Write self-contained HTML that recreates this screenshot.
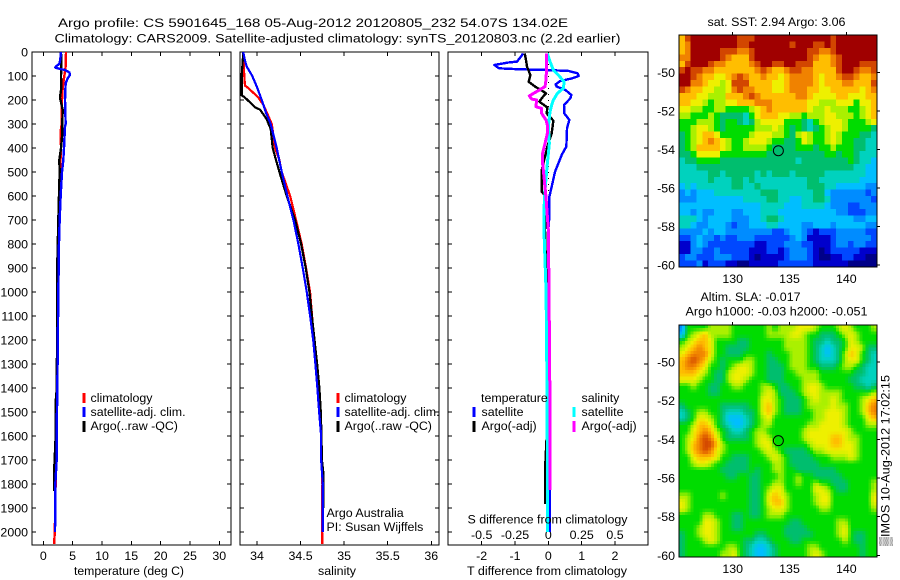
<!DOCTYPE html>
<html>
<head>
<meta charset="utf-8">
<title>Argo profile</title>
<style>
html,body{margin:0;padding:0;background:#fff;width:900px;height:580px;overflow:hidden}
svg{display:block}
text{font-family:"Liberation Sans",sans-serif;font-size:12.4px;fill:#000}
</style>
</head>
<body>
<svg id="chart" width="900" height="580" viewBox="0 0 900 580" xmlns="http://www.w3.org/2000/svg">
<rect x="0" y="0" width="900" height="580" fill="#fff"/>
<text x="58" y="27" textLength="510" lengthAdjust="spacingAndGlyphs">Argo profile: CS 5901645_168 05-Aug-2012 20120805_232 54.07S 134.02E</text>
<text x="54.5" y="42.5" textLength="566" lengthAdjust="spacingAndGlyphs">Climatology: CARS2009. Satellite-adjusted climatology: synTS_20120803.nc (2.2d earlier)</text>
<g id="layer"></g>
<text x="74" y="575" textLength="110" lengthAdjust="spacingAndGlyphs">temperature (deg C)</text>
<text x="318" y="575" textLength="38" lengthAdjust="spacingAndGlyphs">salinity</text>
<text x="467" y="575" textLength="160" lengthAdjust="spacingAndGlyphs">T difference from climatology</text>
<text x="467.5" y="523.5" textLength="160" lengthAdjust="spacingAndGlyphs">S difference from climatology</text>
<text x="90.5" y="402">climatology</text>
<text x="90.5" y="416">satellite-adj. clim.</text>
<text x="90.5" y="430">Argo(..raw -QC)</text>
<text x="344.5" y="402">climatology</text>
<text x="344.5" y="416">satellite-adj. clim.</text>
<text x="344.5" y="430">Argo(..raw -QC)</text>
<text x="326.5" y="517">Argo Australia</text>
<text x="326.5" y="531">PI: Susan Wijffels</text>
<text x="481" y="402">temperature</text>
<text x="581.5" y="402">salinity</text>
<text x="481.5" y="416">satellite</text>
<text x="481.5" y="430">Argo(-adj)</text>
<text x="581.5" y="416">satellite</text>
<text x="581.5" y="430">Argo(-adj)</text>
<text x="707.5" y="26" textLength="138" lengthAdjust="spacingAndGlyphs">sat. SST: 2.94 Argo: 3.06</text>
<text x="700.5" y="301" textLength="100" lengthAdjust="spacingAndGlyphs">Altim. SLA: -0.017</text>
<text x="685.5" y="315.5" textLength="182" lengthAdjust="spacingAndGlyphs">Argo h1000: -0.03 h2000: -0.051</text>
<text transform="translate(889.5,546) rotate(-90)" textLength="171" lengthAdjust="spacingAndGlyphs">▒IMOS 10-Aug-2012 17:02:15</text>
</svg>
<script>
// ---- chart data ----
const depthTicks = [0,100,200,300,400,500,600,700,800,900,1000,1100,1200,1300,1400,1500,1600,1700,1800,1900,2000];
const tempTicks = [0,5,10,15,20,25,30];
const salTicks = [34,34.5,35,35.5,36];
const diffTTicks = [-2,-1,0,1,2];
const diffSTicks = [-0.5,-0.25,0,0.25,0.5];
const lonTicks = [130,135,140];
const latTicks = [-50,-52,-54,-56,-58,-60];
const argoLon = 134.02;
const argoLat = -54.07;

const climTempDepth = [0,60,80,150,200,300,330,400,500,600,1000,1400,1800,1950,2000,2050];
const climTemp = [3.87,3.81,3.70,3.30,3.19,3.13,2.96,3.02,2.84,2.73,2.56,2.39,2.1,2.0,1.95,1.85];
const satTempDepth = [0,30,50,60,65,70,75,85,95,110,130,200,300,310,400,450,500,600,700,800,900,1000,1400,1500,1600,1700,1800,1900,2000];
const satTemp = [3.02,2.90,2.73,2.16,2.05,2.73,3.70,4.44,4.55,4.15,3.81,3.70,3.81,3.70,3.53,3.41,3.19,2.96,2.79,2.67,2.62,2.56,2.39,2.33,2.28,2.28,2.05,2.05,1.99];
const argoTempDepth = [0,50,100,150,190,210,240,300,340,400,450,500,600,700,880,1000,1400,1460,1600,1730,1830];
const argoTemp = [3.02,3.07,3.02,3.07,2.84,3.02,3.30,3.24,3.24,3.02,2.73,2.79,2.67,2.56,2.39,2.39,2.3,2.11,2.11,1.88,1.88];

const climSalDepth = [0,100,140,150,170,190,220,250,300,400,450,500,600,700,800,900,1000,1200,1400,1600,1800,1950,2050];
const climSal = [33.843,33.854,33.862,33.90,33.958,34.015,34.073,34.11,34.17,34.207,34.257,34.284,34.38,34.448,34.513,34.563,34.609,34.655,34.70,34.736,34.75,34.745,34.75];
const satSalDepth = [0,30,60,100,150,200,250,300,400,500,600,700,800,900,1000,1100,1200,1300,1400,1500,1600,1700,1800,1900,2000];
const satSal = [33.843,33.858,33.881,33.946,34.004,34.054,34.10,34.157,34.226,34.284,34.349,34.418,34.475,34.525,34.571,34.61,34.645,34.67,34.693,34.713,34.736,34.736,34.755,34.755,34.755];
const argoSalDepth = [0,100,180,190,210,230,240,260,280,320,400,450,500,600,700,800,900,1000,1100,1200,1300,1400,1500,1600,1700,1750,1800,1900];
const argoSal = [33.843,33.824,33.824,33.862,33.92,33.977,34.034,34.073,34.11,34.157,34.18,34.218,34.257,34.341,34.437,34.506,34.559,34.602,34.63,34.66,34.69,34.716,34.732,34.74,34.745,34.76,34.76,34.76];

const diffSatTDepth = [6,17,40,44,54,68,72,75,79,89,100,110,121,135,144,158,179,193,221,256,283,318,394,429,499,561,603,686,742,1000,1400,2000];
const diffSatT = [-0.76,-0.81,-0.94,-1.21,-1.62,-1.48,-0.86,-0.05,0.61,0.88,0.91,0.71,0.35,0.22,0.25,0.51,0.69,0.66,0.47,0.48,0.63,0.56,0.54,0.40,0.2,0.1,0.03,0.03,0,0.02,0.05,0.05];
const diffArgoTDepth = [6,26,61,96,124,144,165,172,193,207,231,256,286,339,394,436,464,492,582,603,742,1000,1400,1600,1740,1850,1883];
const diffArgoT = [-0.71,-0.68,-0.64,-0.54,-0.59,-0.40,-0.15,-0.07,-0.2,-0.27,-0.03,-0.05,0.15,0.1,-0.03,-0.1,-0.15,-0.2,-0.2,-0.07,-0.1,-0.05,-0.05,-0.05,-0.1,-0.1,-0.1];
const diffSatSDepth = [6,40,75,96,124,151,172,200,221,249,311,381,464,575,658,742,1000,1400,2000];
const diffSatS = [-0.0075,0.0125,0.0376,0.075,0.118,0.113,0.068,0.0376,0.025,0.0125,0,0.0075,-0.0075,-0.025,-0.033,-0.033,-0.017,-0.01,-0.005];
const diffArgoSDepth = [6,61,117,144,165,183,196,200,228,235,256,283,304,339,381,422,464,519,603,686,742,1000,1500,1825];
const diffArgoS = [-0.0125,-0.0125,-0.018,-0.025,-0.088,-0.143,-0.125,-0.088,-0.093,-0.05,-0.05,-0.018,-0.0075,-0.0075,-0.025,-0.043,-0.043,-0.033,-0.018,-0.0075,0,0.005,0.0125,0.0125];

// colour level per map cell (row 0 = north)
const sstLevels = [
[10,12,13,13,13,13,13,13,13,13,12,12,12,13,13,13,13,13,13,13,13,13,13,13,13,13,12,13,13,13,13,13,13,13],
[10,11,13,13,13,13,13,13,13,13,12,12,13,13,13,13,13,13,13,12,13,13,13,12,12,13,12,13,13,13,13,13,13,13],
[10,11,13,13,13,13,13,12,12,12,11,11,12,13,13,13,13,13,13,13,13,13,12,12,11,11,12,13,13,13,13,13,13,13],
[11,11,13,13,13,13,13,12,11,10,10,10,12,13,13,13,13,13,13,13,13,13,12,11,10,10,11,12,13,13,13,13,13,13],
[10,12,13,13,13,12,11,11,10,10,10,10,11,12,13,13,12,12,13,13,12,12,12,10,10,10,11,12,13,13,13,12,12,12],
[12,13,12,12,11,11,10,10,10,10,10,10,10,11,12,11,10,10,11,12,12,11,11,10,10,10,10,12,13,13,12,11,11,12],
[13,13,12,11,10,10,9,9,10,11,12,11,10,10,11,10,10,9,10,11,11,11,11,10,9,10,10,11,12,12,11,10,10,11],
[13,13,11,11,10,9,9,8,9,12,12,12,10,10,10,10,9,9,10,11,11,11,11,10,9,10,10,10,11,11,10,10,10,12],
[12,11,10,10,9,9,8,8,9,11,12,11,11,10,10,10,9,9,10,11,11,11,10,10,9,9,10,10,10,10,10,9,10,11],
[10,10,10,9,9,8,8,8,10,10,10,11,12,11,10,10,10,10,10,10,11,11,10,9,9,9,9,10,10,9,9,9,10,10],
[10,10,9,9,8,7,8,8,9,9,10,10,10,11,11,11,10,10,10,10,10,10,9,9,8,8,8,9,9,9,7,9,9,10],
[9,9,8,8,7,7,8,8,7,7,7,7,8,9,10,11,10,10,10,10,10,10,9,8,8,9,8,8,8,7,7,8,9,10],
[8,8,7,7,7,8,7,6,6,6,6,5,7,9,10,10,10,9,9,8,8,7,8,8,8,9,9,8,8,8,7,8,9,10],
[7,7,7,8,8,8,7,6,7,7,6,5,6,8,9,9,9,9,7,7,7,6,5,7,8,9,9,9,8,7,7,7,8,9],
[7,7,8,9,9,8,7,6,7,7,7,7,7,8,8,8,9,8,7,6,7,6,5,6,7,8,9,9,8,7,7,7,7,6],
[6,7,8,9,10,10,9,7,7,7,7,7,8,9,9,9,8,8,7,6,8,9,8,7,7,8,9,8,7,7,7,6,6,5],
[6,7,8,9,10,11,10,9,8,7,7,8,9,9,9,8,7,7,6,6,7,9,8,7,7,8,9,8,7,7,6,6,5,5],
[6,7,8,10,10,10,10,9,8,7,7,8,8,8,8,7,6,6,6,6,7,7,7,6,7,7,8,7,7,7,6,6,5,5],
[6,6,7,9,9,9,9,7,7,7,7,7,7,7,7,6,6,6,6,6,6,6,6,6,6,7,7,6,7,7,6,5,5,5],
[5,6,6,7,7,7,7,6,6,6,6,6,6,6,6,6,6,6,6,6,5,6,6,6,6,6,6,6,6,7,6,5,5,4],
[5,5,5,6,6,6,6,6,6,6,6,6,6,6,6,6,6,6,6,6,6,6,6,6,6,6,6,6,6,6,5,5,4,4],
[5,5,5,5,5,6,6,5,6,6,6,6,6,5,6,5,6,6,6,5,6,6,6,6,6,5,5,5,5,5,5,5,4,4],
[5,5,5,5,5,6,5,5,5,6,6,5,6,5,5,5,5,5,5,5,5,5,6,6,5,5,5,5,5,5,5,4,4,4],
[4,5,4,5,5,5,5,5,5,6,6,5,5,6,5,5,5,5,5,5,5,5,6,6,6,5,5,4,4,4,4,4,3,3],
[3,4,3,4,4,4,5,5,5,5,5,5,5,5,6,6,6,5,5,5,5,5,5,6,6,4,3,3,3,3,3,3,2,3],
[3,3,3,4,4,4,4,4,4,4,4,5,5,5,5,6,6,5,5,4,4,5,5,6,6,5,3,3,3,3,3,3,3,2],
[4,4,4,4,4,4,4,4,4,4,4,4,4,4,5,5,5,5,4,4,4,5,5,5,5,4,3,3,3,2,2,3,3,3],
[4,4,3,4,3,3,4,4,4,3,3,4,4,4,5,5,5,4,4,4,4,4,4,4,4,4,4,3,3,2,2,2,3,3],
[5,5,5,4,3,4,4,4,4,3,3,3,4,4,5,6,6,5,4,4,4,4,4,4,4,4,4,4,4,4,3,3,4,4],
[5,5,4,3,3,4,4,4,3,2,3,3,4,4,4,5,5,4,4,4,4,3,3,4,4,4,3,4,4,4,4,4,3,3],
[3,3,3,3,4,3,4,4,3,3,3,3,3,3,3,3,2,2,3,4,4,3,2,1,2,2,2,3,3,3,3,3,2,2],
[2,2,3,4,3,3,2,3,2,2,3,3,3,2,2,2,2,2,2,3,4,3,1,1,1,1,2,3,3,3,3,3,3,2],
[1,1,3,4,3,2,2,2,2,2,2,2,2,1,1,2,2,2,3,3,3,2,2,1,1,1,2,3,3,2,3,3,2,2],
[1,1,3,3,2,2,3,2,2,2,2,2,1,1,1,2,2,1,2,3,3,3,2,1,0,1,2,2,2,2,2,1,1,1],
[2,3,3,2,2,2,3,3,3,2,2,2,1,0,1,1,1,1,2,3,3,3,2,1,0,0,1,1,2,2,1,1,0,0],
[2,2,2,3,1,2,2,2,1,1,0,0,1,1,1,1,1,2,2,2,2,2,2,1,1,1,1,1,1,0,0,0,0,0]
];
const slaLevels = [
[3,7,7,7,7,8,8,8,8,7,7,7,7,7,7,8,7,8,8,8,9,9,9,8,7,7,7,8,9,8,7,7,7,8],
[4,7,8,9,10,8,8,8,8,7,7,7,7,7,7,8,8,8,8,9,9,8,7,7,6,6,6,7,8,9,8,7,7,7],
[7,8,9,10,10,9,7,7,7,7,6,6,7,7,7,7,7,7,8,8,8,8,7,6,6,5,6,6,7,9,8,7,7,7],
[8,9,10,11,10,9,7,7,6,6,6,6,7,7,7,7,7,7,8,8,8,8,7,6,5,4,5,6,7,9,9,8,6,6],
[9,10,11,11,11,9,7,7,6,6,6,7,7,7,7,6,7,7,7,8,8,8,7,6,5,4,5,6,8,10,9,7,6,5],
[10,11,12,11,10,8,7,6,7,7,7,8,8,7,7,6,6,7,7,8,8,8,7,6,5,5,5,6,8,9,9,7,6,5],
[10,11,11,10,9,7,7,6,7,8,9,9,8,7,7,6,6,6,7,8,8,8,7,7,6,6,6,7,8,8,7,6,5,5],
[10,10,10,9,8,7,6,6,8,9,9,9,8,7,7,6,6,6,7,7,8,8,8,8,7,7,7,7,7,7,6,6,5,5],
[9,9,9,8,7,7,6,6,8,9,9,8,7,7,7,6,6,6,7,7,7,8,8,8,7,7,7,7,7,6,6,5,5,5],
[7,7,8,7,7,6,6,7,7,8,8,7,7,7,8,8,7,6,6,7,7,8,9,9,8,7,7,7,7,7,6,6,5,6],
[7,7,7,7,7,6,6,7,7,7,7,7,7,7,8,9,8,6,6,6,7,8,9,9,8,8,8,8,7,7,7,7,7,8],
[7,7,7,7,7,7,7,7,7,7,7,7,7,7,9,9,8,7,6,6,6,7,8,9,8,8,9,8,7,7,7,8,9,10],
[6,7,7,7,7,7,7,6,6,6,6,6,7,7,9,10,8,7,6,6,6,7,8,8,8,8,9,8,8,7,7,8,10,11],
[5,6,7,8,8,7,7,6,5,5,5,6,6,7,9,10,8,7,6,6,6,7,7,8,8,9,9,9,8,7,7,8,10,11],
[5,6,7,9,9,8,7,6,4,4,4,5,6,7,8,9,7,7,7,7,7,7,7,8,8,9,9,9,8,7,7,7,9,10],
[7,7,8,10,10,9,7,6,5,4,4,5,6,7,8,8,7,7,7,7,7,7,8,8,9,9,9,9,8,7,7,7,8,8],
[7,7,9,10,11,10,8,7,6,5,5,6,7,8,8,7,7,7,7,7,7,8,9,9,9,9,9,9,9,8,7,7,7,7],
[7,8,9,11,12,11,9,7,6,6,6,6,7,8,9,8,7,7,7,7,7,8,9,9,9,9,10,10,9,8,8,7,7,7],
[7,8,10,11,12,12,10,8,7,7,7,7,7,8,9,9,7,7,7,7,7,7,8,9,9,9,10,10,9,9,8,7,7,7],
[7,8,10,11,12,11,9,8,7,7,7,7,7,7,8,9,8,7,6,6,6,6,7,8,8,9,9,9,9,9,8,7,7,7],
[7,7,9,10,10,10,9,7,7,6,6,6,7,7,7,8,9,8,7,6,6,6,6,7,7,7,8,8,8,9,8,7,7,7],
[7,7,8,9,9,8,7,7,6,6,6,6,7,7,7,7,8,8,7,6,6,6,6,6,7,7,7,7,7,7,7,7,7,7],
[7,7,7,7,7,7,7,6,6,6,6,6,7,6,7,7,8,8,7,7,6,6,6,6,6,6,6,7,7,7,7,7,7,7],
[7,7,7,7,7,7,7,7,6,6,7,7,6,6,7,7,7,8,7,7,8,7,7,6,6,6,6,6,7,7,7,7,7,7],
[7,7,7,7,7,7,7,7,7,7,7,7,6,6,7,7,8,8,7,7,8,7,7,8,7,7,6,6,6,7,7,7,7,8],
[7,7,7,7,7,7,7,7,7,7,7,7,6,6,7,8,9,9,7,7,7,7,7,9,9,8,7,6,6,7,7,7,7,8],
[8,8,7,7,7,7,7,8,7,7,7,7,6,6,7,9,10,9,8,7,7,7,7,8,9,9,7,7,7,7,7,7,7,9],
[9,8,7,7,7,7,7,7,7,7,7,7,6,6,7,9,10,10,8,7,7,7,7,8,9,9,7,7,7,7,7,7,7,9],
[9,8,7,7,7,7,7,7,7,7,7,7,6,6,7,8,9,9,8,7,7,7,7,7,8,8,7,7,7,7,7,7,7,8],
[7,7,7,7,8,8,7,7,7,6,6,7,6,6,7,8,8,8,7,7,7,7,7,7,7,7,7,7,7,7,7,7,7,7],
[7,7,7,7,9,9,8,7,7,6,6,7,7,7,7,7,7,7,7,6,6,7,7,7,7,7,7,8,8,7,7,7,7,7],
[7,7,7,8,9,9,8,7,7,6,6,7,7,7,7,7,7,7,6,6,6,6,7,7,7,7,7,8,9,7,7,7,7,7],
[6,7,7,8,9,9,8,7,7,7,7,7,7,6,6,7,7,7,6,6,6,6,6,7,7,7,7,8,9,7,6,6,7,7],
[6,7,7,7,8,9,8,7,7,7,7,6,6,5,5,6,7,7,7,6,6,7,7,7,7,7,7,7,8,7,6,6,7,7],
[6,7,7,7,7,7,7,7,8,8,7,6,5,4,4,5,6,7,7,7,7,7,8,8,7,7,7,7,7,7,7,6,7,7],
[6,7,7,7,7,7,7,8,8,9,7,6,5,4,4,5,6,7,7,7,7,7,8,9,8,7,7,7,7,7,7,6,7,7]
];
const levelColors = [[0,0,136],[0,0,204],[0,72,255],[0,140,255],[0,190,255],[0,210,190],[0,190,110],[0,220,0],[170,240,0],[238,240,0],[255,190,0],[240,130,0],[210,70,0],[160,0,0]];

// ---- helpers ----
const NS = 'http://www.w3.org/2000/svg';
const layer = document.getElementById('layer');
function linear(d0, d1, p0, p1) { return v => p0 + (v - d0) * (p1 - p0) / (d1 - d0); }
function levelColor(v) {
  const a = Math.max(0, Math.min(levelColors.length - 1, Math.floor(v)));
  const b = Math.min(levelColors.length - 1, a + 1);
  const f = Math.max(0, Math.min(1, v - a));
  const ch = k => Math.round(levelColors[a][k] + (levelColors[b][k] - levelColors[a][k]) * f);
  return 'rgb(' + ch(0) + ',' + ch(1) + ',' + ch(2) + ')';
}
function addLine(x1, y1, x2, y2, name, color, width) {
  const el = document.createElementNS(NS, 'line');
  
  
  el.setAttribute('x1', x1);
  el.setAttribute('y1', y1);
  el.setAttribute('x2', x2);
  el.setAttribute('y2', y2);
  el.setAttribute('stroke', color);
  el.setAttribute('stroke-width', width);
  el.setAttribute('shape-rendering', 'crispEdges');
  layer.appendChild(el);
  return el;
}
function addLabel(x, y, str, anchor, name) {
  const el = document.createElementNS(NS, 'text');
  
  
  el.setAttribute('x', x);
  el.setAttribute('y', y);
  el.setAttribute('text-anchor', anchor);
  el.textContent = str;
  layer.appendChild(el);
}
function addFrame(x, y, w, h, name) {
  const el = document.createElementNS(NS, 'rect');
  
  
  el.setAttribute('x', x);
  el.setAttribute('y', y);
  el.setAttribute('width', w);
  el.setAttribute('height', h);
  el.setAttribute('fill', 'none');
  el.setAttribute('stroke', '#000');
  el.setAttribute('stroke-width', 1);
  el.setAttribute('shape-rendering', 'crispEdges');
  layer.appendChild(el);
}
function addSeries(depths, values, xScale, color, width, name) {
  const el = document.createElementNS(NS, 'polyline');
  
  
  el.setAttribute('points', depths.map((d, i) => xScale(values[i]) + ',' + yDepth(d)).join(' '));
  el.setAttribute('fill', 'none');
  el.setAttribute('stroke', color);
  el.setAttribute('stroke-width', width);
  el.setAttribute('stroke-linejoin', 'round');
  el.setAttribute('shape-rendering', 'crispEdges');
  layer.appendChild(el);
}
function addCell(x, y, w, h, color, name) {
  const el = document.createElementNS(NS, 'rect');
  
  
  el.setAttribute('x', x);
  el.setAttribute('y', y);
  el.setAttribute('width', w);
  el.setAttribute('height', h);
  el.setAttribute('fill', color);
  el.setAttribute('shape-rendering', 'crispEdges');
  layer.appendChild(el);
}

// ---- axes ----
const topY = 52, botY = 545;
const yDepth = linear(0, 2000, 52, 532);
const xTemp = linear(0, 30, 43.3, 219.3);
const xSal = linear(34, 36, 257, 431.3);
const xDiffT = linear(-2, 2, 481.7, 615);
const xDiffS = linear(-0.5, 0.5, 481.7, 615);

function profilePanel(left, right, xScale, ticks, prefix) {
  addFrame(left, topY, right - left, botY - topY, prefix + '-axes-frame');
  depthTicks.forEach(d => {
    addLine(left, yDepth(d), left + 4, yDepth(d), prefix + '-depth-tick-left', '#000', 1);
    addLine(right - 4, yDepth(d), right, yDepth(d), prefix + '-depth-tick-right', '#000', 1);
  });
  ticks.forEach(t => {
    addLine(xScale(t), topY, xScale(t), topY + 4, prefix + '-x-tick-top', '#000', 1);
    addLine(xScale(t), botY - 4, xScale(t), botY, prefix + '-x-tick-bottom', '#000', 1);
    addLabel(xScale(t), 560, String(t), 'middle', prefix + '-x-tick-label');
  });
}
depthTicks.forEach(d => addLabel(28, yDepth(d) + 4.5, String(d), 'end', 'depth-tick-label'));
profilePanel(32, 231, xTemp, tempTicks, 'temperature');
profilePanel(240, 439, xSal, salTicks, 'salinity');
profilePanel(448, 648, xDiffT, diffTTicks, 'difference');
diffSTicks.forEach(t => addLabel(xDiffS(t), 539, String(t), 'middle', 's-difference-tick-label'));

// ---- temperature series ----
addSeries(climTempDepth, climTemp, xTemp, '#ff0000', 2.4, 'temperature-climatology-line');
addSeries(argoTempDepth, argoTemp, xTemp, '#000000', 2.4, 'temperature-argo-line');
addSeries(satTempDepth, satTemp, xTemp, '#0000ff', 2.4, 'temperature-satellite-line');
// ---- salinity series ----
addSeries(climSalDepth, climSal, xSal, '#ff0000', 2.2, 'salinity-climatology-line');
addSeries(argoSalDepth, argoSal, xSal, '#000000', 2.2, 'salinity-argo-line');
addSeries(satSalDepth, satSal, xSal, '#0000ff', 2.2, 'salinity-satellite-line');
// ---- difference series ----
const zero = addLine(xDiffT(0), topY, xDiffT(0), 532, 'zero-difference-line', '#000', 1);
zero.setAttribute('stroke-dasharray', '1 5');
addSeries(diffSatTDepth, diffSatT, xDiffT, '#0000ff', 2.4, 'difference-t-satellite-line');
addSeries(diffArgoTDepth, diffArgoT, xDiffT, '#000000', 2.4, 'difference-t-argo-line');
addSeries(diffSatSDepth, diffSatS, xDiffS, '#00ffff', 3, 'difference-s-satellite-line');
addSeries(diffArgoSDepth, diffArgoS, xDiffS, '#ff00ff', 3, 'difference-s-argo-line');

// ---- legend swatches ----
const swatches = [[84,393,403,'#ff0000'],[84,407,417,'#0000ff'],[84,421,432,'#000000'],[338,393,403,'#ff0000'],[338,407,417,'#0000ff'],[338,421,432,'#000000'],[474,407,417,'#0000ff'],[474,421,432,'#000000'],[574,407,417,'#00ffff'],[574,421,432,'#ff00ff']];
swatches.forEach(s => addLine(s[0], s[1], s[0], s[2], 'legend-swatch', s[3], 3));

// ---- maps ----
function drawMap(levels, top, bottom, lat50, lat60, prefix, subdiv) {
  const left = 679, right = 877;
  const xLon = linear(130, 140, 732.7, 846.3);
  const yLat = linear(-50, -60, lat50, lat60);
  const rows = levels.length, cols = levels[0].length;
  const cellW = (right - left) / (cols * subdiv);
  const cellH = (bottom - top) / (rows * subdiv);
  const sample = (fr, fc) => {
    const r0 = Math.max(0, Math.min(rows - 1, Math.floor(fr)));
    const r1 = Math.min(rows - 1, r0 + 1);
    const c0 = Math.max(0, Math.min(cols - 1, Math.floor(fc)));
    const c1 = Math.min(cols - 1, c0 + 1);
    const tr = Math.max(0, fr - r0), tc = Math.max(0, fc - c0);
    return (levels[r0][c0] * (1 - tc) + levels[r0][c1] * tc) * (1 - tr) + (levels[r1][c0] * (1 - tc) + levels[r1][c1] * tc) * tr;
  };
  for (let r = 0; r < rows * subdiv; r++) {
    for (let c = 0; c < cols * subdiv; c++) {
      const v = subdiv === 1 ? levels[r][c] : sample((r + 0.5) / subdiv - 0.5, (c + 0.5) / subdiv - 0.5);
      addCell(left + c * cellW, top + r * cellH, cellW + 0.5, cellH + 0.5, levelColor(v), prefix + '-map-cell');
    }
  }
  addFrame(left, top, right - left, bottom - top, prefix + '-map-frame');
  lonTicks.forEach(t => {
    addLine(xLon(t), top - 3, xLon(t), top, prefix + '-lon-tick', '#000', 1);
    addLabel(xLon(t), bottom + 16, String(t), 'middle', prefix + '-lon-label');
  });
  latTicks.forEach(t => {
    addLine(right, yLat(t), right + 3, yLat(t), prefix + '-lat-tick', '#000', 1);
    addLabel(675, yLat(t) + 4.5, String(t), 'end', prefix + '-lat-label');
  });
  const mark = document.createElementNS(NS, 'circle');
  
  
  mark.setAttribute('cx', xLon(argoLon));
  mark.setAttribute('cy', yLat(argoLat));
  mark.setAttribute('r', 5);
  mark.setAttribute('fill', 'none');
  mark.setAttribute('stroke', '#000');
  mark.setAttribute('stroke-width', 1);
  layer.appendChild(mark);
}
drawMap(sstLevels, 35, 267, 72.3, 265, 'sst', 1);
drawMap(slaLevels, 325, 557, 362, 555.3, 'sla', 2);
</script>
</body>
</html>
